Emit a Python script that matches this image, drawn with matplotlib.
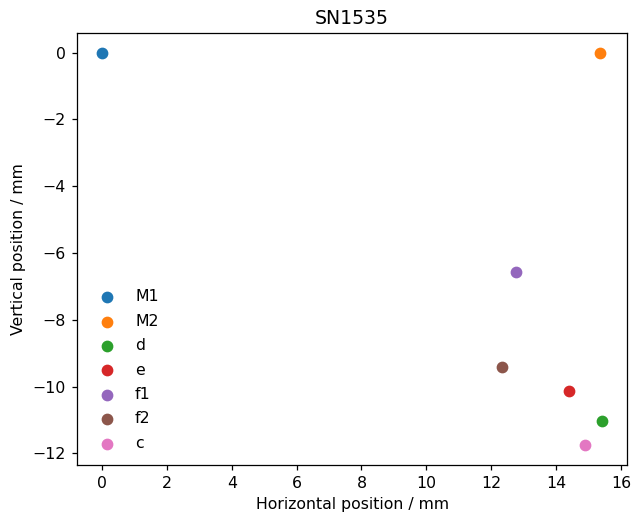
import matplotlib
matplotlib.use("Agg")
import matplotlib.pyplot as plt

# Measured positions (mm)
names = ["M1", "M2", "d", "e", "f1", "f2", "c"]
x_pos = [0.0, 15.35, 15.43, 14.40, 12.77, 12.32, 14.88]
y_pos = [0.0, 0.0, -11.03, -10.13, -6.58, -9.41, -11.76]

dpi = 113
fig, ax = plt.subplots(figsize=(636 / dpi, 517 / dpi), dpi=dpi)
fig.subplots_adjust(left=0.121, right=0.9866, top=0.936, bottom=0.1006)

for name, x, y in zip(names, x_pos, y_pos):
    ax.scatter(x, y, s=42, label=name)

ax.set_xticks(range(0, 17, 2))
ax.set_xlabel('Horizontal position / mm')
ax.set_ylabel('Vertical position / mm')
ax.set_title('SN1535')
ax.legend(loc='lower left', frameon=False, labelspacing=0.6)

plt.savefig('out.png', dpi=dpi)
